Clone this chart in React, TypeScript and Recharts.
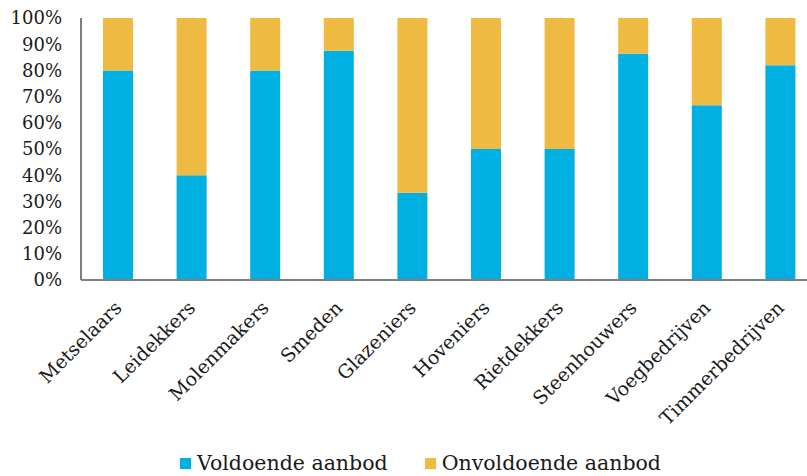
import { BarChart, Bar, XAxis, YAxis, Legend } from "recharts";

const categories = [
  "Metselaars",
  "Leidekkers",
  "Molenmakers",
  "Smeden",
  "Glazeniers",
  "Hoveniers",
  "Rietdekkers",
  "Steenhouwers",
  "Voegbedrijven",
  "Timmerbedrijven",
];
const voldoende = [80, 40, 80, 87.5, 33.3, 50, 50, 86.4, 66.7, 82];
const onvoldoende = [20, 60, 20, 12.5, 66.7, 50, 50, 13.6, 33.3, 18];
const yTicks = [0, 10, 20, 30, 40, 50, 60, 70, 80, 90, 100];

const BLUE = "#00B0E3";
const GOLD = "#EFBA42";
const FONT = "'DejaVu Serif', serif";

const chartData = categories.map((name, i) => ({
  name,
  voldoende: voldoende[i],
  onvoldoende: onvoldoende[i],
}));

// rotated category label, end of the word sits just right of the bar centre
function CategoryTick({ x, y, payload }: any) {
  const tx = x + 5;
  const ty = y + 21;
  return (
    <text
      x={tx}
      y={ty}
      textAnchor="end"
      transform={`rotate(-45, ${tx}, ${ty})`}
      fontFamily={FONT}
      fontSize={19}
      fill="#1a1a1a"
    >
      {payload.value}
    </text>
  );
}

function LegendContent() {
  const items = [
    { label: "Voldoende aanbod", color: BLUE },
    { label: "Onvoldoende aanbod", color: GOLD },
  ];
  return (
    <div
      style={{
        display: "flex",
        justifyContent: "center",
        gap: 37,
        fontFamily: FONT,
        fontSize: 20.5,
        color: "#1a1a1a",
        paddingLeft: 34,
      }}
    >
      {items.map((it) => (
        <span key={it.label} style={{ display: "flex", alignItems: "center" }}>
          <span
            style={{
              width: 11,
              height: 11,
              background: it.color,
              display: "inline-block",
              marginRight: 6,
            }}
          />
          {it.label}
        </span>
      ))}
    </div>
  );
}

export default function App() {
  return (
    <div style={{ width: 807, height: 476, overflow: "hidden" }}>
      <style>{`body{margin:0}`}</style>
      <BarChart
        width={830}
        height={476}
        data={chartData}
        margin={{ top: 18, right: 13, left: 0, bottom: 0 }}
      >
        <YAxis
          width={81}
          domain={[0, 100]}
          ticks={yTicks}
          interval={0}
          tickFormatter={(v: number) => `${v}%`}
          tickLine={false}
          tickSize={0}
          tickMargin={19}
          axisLine={{ stroke: "#7f7f7f", strokeWidth: 2 }}
          tick={{ fontFamily: FONT, fontSize: 18, fill: "#1a1a1a" }}
        />
        <XAxis
          dataKey="name"
          height={150}
          interval={0}
          tickLine={false}
          axisLine={{ stroke: "#7f7f7f", strokeWidth: 2 }}
          tick={<CategoryTick />}
        />
        <Legend
          verticalAlign="bottom"
          height={46}
          content={<LegendContent />}
          wrapperStyle={{ width: 807, left: 0, top: 451 }}
        />
        <Bar
          dataKey="voldoende"
          stackId="a"
          fill={BLUE}
          barSize={30}
          isAnimationActive={false}
        />
        <Bar
          dataKey="onvoldoende"
          stackId="a"
          fill={GOLD}
          barSize={30}
          isAnimationActive={false}
        />
      </BarChart>
    </div>
  );
}
